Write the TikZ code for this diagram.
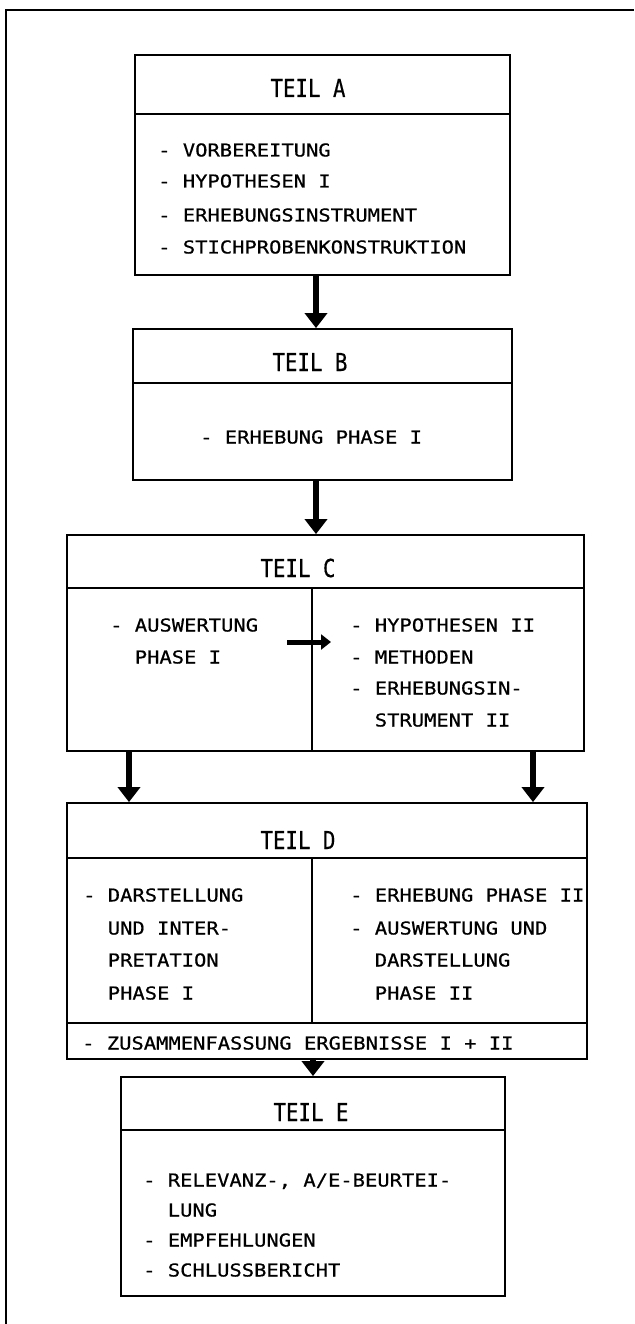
\documentclass[tikz,border=0pt]{standalone}
\usepackage{fontspec}
\usetikzlibrary{arrows.meta}
\newfontfamily\bodyfont[FakeStretch=1.15,FakeBold=0.6]{DejaVu Sans Mono}
\newfontfamily\headfont[FakeStretch=0.84,FakeBold=0.4]{DejaVu Sans Mono}
\begin{document}
\begin{tikzpicture}[x=1pt,y=-1pt,
  box/.style={draw, line width=1.8pt, inner sep=0pt, rectangle},
  rule/.style={line width=1.8pt},
  thinrule/.style={line width=1.1pt},
  head/.style={font=\headfont\fontsize{24.7}{26}\selectfont, inner sep=0pt, anchor=base},
  item/.style={font=\bodyfont\fontsize{17.8}{20}\selectfont, inner sep=0pt, anchor=base west},
  bigarrow/.style={line width=6pt, -{Triangle[width=22pt,length=15pt]}},
  smallarrow/.style={line width=5pt, -{Triangle[width=15pt,length=10pt]}},
  frame/.style={line width=2.4pt}
]
\useasboundingbox (0,0) rectangle (634,1324);
\draw[frame] (6,1324) -- (6,10) -- (634,10);

% boxes
\node[box, minimum width=375pt, minimum height=220pt] (A) at (322.5,165) {};
\node[box, minimum width=379pt, minimum height=151pt] (B) at (322.5,404.5) {};
\node[box, minimum width=517pt, minimum height=216pt] (C) at (325.5,643) {};
\node[box, minimum width=520pt, minimum height=256pt] (D) at (327,931) {};
\node[box, minimum width=384pt, minimum height=219pt] (E) at (313,1186.5) {};

% dividers
\draw[rule] (A.west |- 0,114) -- (A.east |- 0,114);
\draw[rule] (B.west |- 0,383) -- (B.east |- 0,383);
\draw[rule] (C.west |- 0,588) -- (C.east |- 0,588);
\draw[thinrule] (312,588) -- (312,0 |- C.south);
\draw[rule] (D.west |- 0,858) -- (D.east |- 0,858);
\draw[thinrule] (312,858) -- (312,1023);
\draw[rule] (D.west |- 0,1023) -- (D.east |- 0,1023);
\draw[rule] (E.west |- 0,1130) -- (E.east |- 0,1130);

% headers
\node[head] (hA) at (308,97) {TEIL A};
\node[head] (hB) at (310,371) {TEIL B};
\node[head] (hC) at (298,577) {TEIL C};
\node[head] (hD) at (298,849) {TEIL D};
\node[head] (hE) at (311,1121) {TEIL E};

% items A
\node[item] (a1) at (158,156.5) {- VORBEREITUNG};
\node[item] (a2) at (158,187.5) {- HYPOTHESEN I};
\node[item] (a3) at (158,221.5) {- ERHEBUNGSINSTRUMENT};
\node[item] (a4) at (158,253.5) {- STICHPROBENKONSTRUKTION};
% items B
\node[item] (b1) at (200,443.5) {- ERHEBUNG PHASE I};
% items C
\node[item] (c1) at (110,631.5) {- AUSWERTUNG};
\node[item] (c2) at (134.6,663.5) {PHASE I};
\node[item] (c3) at (350,631.5) {- HYPOTHESEN II};
\node[item] (c4) at (350,663.5) {- METHODEN};
\node[item] (c5) at (350,694.5) {- ERHEBUNGSIN-};
\node[item] (c6) at (374.6,726.5) {STRUMENT II};
% items D
\node[item] (d1) at (83,901.5) {- DARSTELLUNG};
\node[item] (d2) at (107.6,934.5) {UND INTER-};
\node[item] (d3) at (107.6,966.5) {PRETATION};
\node[item] (d4) at (107.6,999.5) {PHASE I};
\node[item] (d5) at (350,901.5) {- ERHEBUNG PHASE II};
\node[item] (d6) at (350,934.5) {- AUSWERTUNG UND};
\node[item] (d7) at (374.6,966.5) {DARSTELLUNG};
\node[item] (d8) at (374.6,999.5) {PHASE II};
\node[item] (d9) at (82,1049.5) {- ZUSAMMENFASSUNG ERGEBNISSE I + II};
% items E
\node[item] (e1) at (143,1186.5) {- RELEVANZ-, A/E-BEURTEI-};
\node[item] (e2) at (167.6,1216.5) {LUNG};
\node[item] (e3) at (143,1246.5) {- EMPFEHLUNGEN};
\node[item] (e4) at (143,1276.5) {- SCHLUSSBERICHT};

% arrows
\draw[bigarrow] (316,0 |- A.south) -- (316,0 |- B.north);
\draw[bigarrow] (316,0 |- B.south) -- (316,0 |- C.north);
\draw[bigarrow] (129,0 |- C.south) -- (129,0 |- D.north);
\draw[bigarrow] (533,0 |- C.south) -- (533,0 |- D.north);
\draw[bigarrow] (313,0 |- D.south) -- (313,0 |- E.north);
\coordinate (cin) at (287,642);
\coordinate (cout) at (331,642);
\draw[smallarrow] (cin) -- (cout);
\end{tikzpicture}
\end{document}
